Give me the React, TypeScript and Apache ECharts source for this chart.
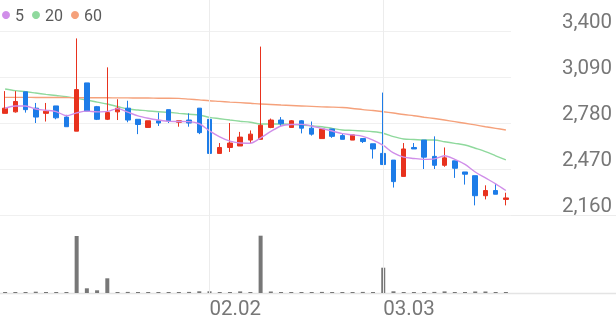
import React, { useEffect, useRef } from "react";
import * as echarts from "echarts";

const dates = [
  "01.05", "01.06", "01.07", "01.08", "01.09", "01.12", "01.13", "01.14", "01.15", "01.16",
  "01.19", "01.20", "01.21", "01.22", "01.23", "01.26", "01.27", "01.28", "01.29", "01.30",
  "02.02", "02.03", "02.04", "02.05", "02.06", "02.09", "02.10", "02.11", "02.12", "02.13",
  "02.19", "02.20", "02.23", "02.24", "02.25", "02.26", "02.27", "03.03", "03.04", "03.05",
  "03.06", "03.09", "03.10", "03.11", "03.12", "03.13", "03.16", "03.17", "03.18", "03.19",
];

const openPrices = [
  2845, 2855, 2990, 2880, 2845, 2895, 2820, 2725, 3050, 2890,
  2805, 2855, 2880, 2805, 2750, 2795, 2870, 2785, 2800, 2880,
  2805, 2575, 2615, 2625, 2665, 2670, 2750, 2800, 2750, 2795,
  2745, 2675, 2740, 2695, 2665, 2675, 2640, 2575, 2530, 2420,
  2615, 2665, 2555, 2495, 2525, 2450, 2425, 2290, 2325, 2265,
];
const closePrices = [
  2880, 2925, 2870, 2820, 2860, 2815, 2755, 3005, 2860, 2805,
  2850, 2880, 2800, 2770, 2795, 2780, 2795, 2795, 2780, 2715,
  2575, 2615, 2645, 2685, 2705, 2765, 2800, 2775, 2795, 2745,
  2705, 2740, 2690, 2670, 2700, 2655, 2605, 2500, 2385, 2605,
  2605, 2550, 2495, 2545, 2475, 2435, 2290, 2325, 2300, 2275,
];
const lowPrices = [
  2845, 2850, 2850, 2780, 2790, 2805, 2755, 2725, 2860, 2800,
  2800, 2800, 2785, 2705, 2750, 2760, 2780, 2755, 2755, 2705,
  2530, 2575, 2585, 2625, 2645, 2670, 2745, 2755, 2750, 2710,
  2695, 2675, 2680, 2670, 2665, 2645, 2540, 2500, 2345, 2420,
  2605, 2470, 2470, 2485, 2410, 2365, 2225, 2265, 2300, 2225,
];
const highPrices = [
  2995, 2995, 2990, 2915, 2915, 2895, 2835, 3350, 3050, 2895,
  3155, 2940, 2930, 2805, 2795, 2850, 2870, 2795, 2845, 2880,
  2805, 2645, 2780, 2720, 2730, 3295, 2810, 2820, 2800, 2800,
  2790, 2740, 2740, 2710, 2700, 2675, 2640, 2985, 2530, 2645,
  2645, 2665, 2690, 2615, 2525, 2450, 2425, 2360, 2370, 2310,
];

const ma5 = [
  2879, 2895, 2895, 2874, 2866, 2857, 2829, 2848, 2860, 2855,
  2858, 2877, 2853, 2828, 2812, 2800, 2791, 2790, 2789, 2775,
  2727, 2687, 2658, 2645, 2644, 2680, 2723, 2760, 2770, 2771,
  2760, 2743, 2726, 2708, 2700, 2690, 2665, 2629, 2578, 2550,
  2541, 2535, 2538, 2559, 2535, 2501, 2450, 2410, 2370, 2325,
];
const ma20 = [
  3009, 2998, 2991, 2982, 2973, 2965, 2957, 2946, 2935, 2921,
  2908, 2891, 2874, 2868, 2861, 2856, 2852, 2845, 2839, 2834,
  2818, 2809, 2800, 2792, 2785, 2773, 2773, 2773, 2770, 2767,
  2761, 2755, 2744, 2733, 2730, 2726, 2721, 2711, 2688, 2672,
  2669, 2665, 2665, 2654, 2643, 2632, 2610, 2587, 2559, 2531,
];
const ma60 = [
  2953, 2953, 2953, 2952, 2952, 2952, 2951, 2951, 2950, 2950,
  2950, 2949, 2949, 2948, 2948, 2947, 2947, 2946, 2941, 2936,
  2930, 2926, 2921, 2917, 2913, 2908, 2905, 2901, 2898, 2895,
  2892, 2889, 2887, 2884, 2878, 2870, 2864, 2856, 2847, 2837,
  2829, 2819, 2810, 2800, 2789, 2778, 2767, 2755, 2744, 2733,
];

const volumes = [
  100000, 90000, 100000, 130000, 90000, 100000, 100000, 5700000, 470000, 270000,
  1470000, 100000, 110000, 100000, 90000, 100000, 90000, 100000, 110000, 170000,
  170000, 90000, 100000, 160000, 100000, 5730000, 150000, 100000, 90000, 100000,
  100000, 110000, 100000, 90000, 100000, 110000, 100000, 2530000, 170000, 100000,
  90000, 100000, 110000, 160000, 100000, 90000, 150000, 150000, 100000, 90000,
];

const priceMin = 2160;
const priceMax = 3400;
const priceStep = 310;
const volumeMax = 6000000;
const markedDates = ["02.02", "03.03"];
const legendNames = ["5", "20", "60"];

const UP = "#e8321e";
const DOWN = "#1d7ce8";
const C5 = "#d08ee9";
const C20 = "#8fd99d";
const C60 = "#f5a17b";
const FONT = "Roboto";

export default function App() {
  const ref = useRef<HTMLDivElement>(null);
  useEffect(() => {
    const chart = echarts.init(ref.current!, null, { renderer: "svg" });
    const candles = dates.map((_, i) => [openPrices[i], closePrices[i], lowPrices[i], highPrices[i]]);
    chart.setOption({
      animation: false,
      textStyle: { fontFamily: FONT },
      legend: {
        data: legendNames,
        left: 2,
        top: 7,
        padding: 0,
        icon: "circle",
        itemWidth: 8,
        itemHeight: 8,
        itemGap: 8,
        textStyle: { fontSize: 16, color: "#5a5a5a", fontFamily: FONT },
      },
      grid: [
        { left: 0, right: 105, top: 31, height: 184 },
        { left: 0, right: 105, top: 233, height: 60 },
        { left: 0, right: 105, top: 0, height: 293 },
      ],
      xAxis: [
        {
          type: "category", gridIndex: 0, data: dates,
          axisLine: { show: false }, axisTick: { show: false }, axisLabel: { show: false }, splitLine: { show: false },
        },
        {
          type: "category", gridIndex: 1, data: dates,
          axisLine: { show: false }, axisTick: { show: false }, splitLine: { show: false },
          axisLabel: {
            show: true,
            interval: (_i: number, v: string) => markedDates.includes(v),
            align: "left",
            margin: 4,
            fontSize: 20.5,
            color: "#777",
            fontFamily: FONT,
          },
        },
        {
          type: "category", gridIndex: 2, data: dates, show: false,
        },
      ],
      yAxis: [
        {
          type: "value", gridIndex: 0, position: "right",
          min: priceMin, max: priceMax, interval: priceStep,
          axisLine: { show: false }, axisTick: { show: false },
          splitLine: { show: true, lineStyle: { color: "#f0f0f0", width: 1 } },
          axisLabel: {
            align: "right",
            verticalAlign: "bottom",
            margin: 101,
            fontSize: 20.5,
            color: "#777",
            fontFamily: FONT,
            formatter: (v: number) => v.toLocaleString("en-US"),
          },
        },
        {
          type: "value", gridIndex: 1, min: 0, max: volumeMax, show: false,
          splitLine: { show: false },
        },
        {
          type: "value", gridIndex: 2, min: 0, max: 1, show: false, splitLine: { show: false },
        },
      ],
      graphic: [
        { type: "line", shape: { x1: 0, y1: 215.5, x2: 616, y2: 215.5 }, style: { stroke: "#ececec", lineWidth: 1 }, z: 0 },
        { type: "line", shape: { x1: 0, y1: 293.5, x2: 616, y2: 293.5 }, style: { stroke: "#e4e4e4", lineWidth: 1.5 }, z: 0 },
      ],
      series: [
        {
          type: "line",
          xAxisIndex: 2,
          yAxisIndex: 2,
          data: dates.map(() => null),
          silent: true,
          z: 0,
          markLine: {
            silent: true,
            symbol: ["none", "none"],
            label: { show: false },
            lineStyle: { color: "#ececec", width: 1, type: "solid" },
            data: markedDates.map((d) => ({ xAxis: d })),
          },
        },
        {
          type: "candlestick",
          xAxisIndex: 0,
          yAxisIndex: 0,
          data: candles,
          barWidth: 5,
          itemStyle: { color: UP, color0: DOWN, borderColor: UP, borderColor0: DOWN, borderWidth: 1 },
          z: 3,
        },
        {
          name: "5", type: "line", xAxisIndex: 0, yAxisIndex: 0, data: ma5,
          showSymbol: false, smooth: 0.3, lineStyle: { color: C5, width: 1.4 }, itemStyle: { color: C5 }, z: 4,
        },
        {
          name: "20", type: "line", xAxisIndex: 0, yAxisIndex: 0, data: ma20,
          showSymbol: false, smooth: 0.3, lineStyle: { color: C20, width: 1.4 }, itemStyle: { color: C20 }, z: 2,
        },
        {
          name: "60", type: "line", xAxisIndex: 0, yAxisIndex: 0, data: ma60,
          showSymbol: false, smooth: 0.3, lineStyle: { color: C60, width: 1.4 }, itemStyle: { color: C60 }, z: 2,
        },
        {
          type: "bar", xAxisIndex: 1, yAxisIndex: 1, data: volumes,
          barWidth: 4, barMinHeight: 1, itemStyle: { color: "#777" }, z: 3,
        },
      ],
    });
    return () => chart.dispose();
  }, []);
  return <div ref={ref} style={{ position: "fixed", left: 0, top: 0, width: 616, height: 321 }} />;
}
